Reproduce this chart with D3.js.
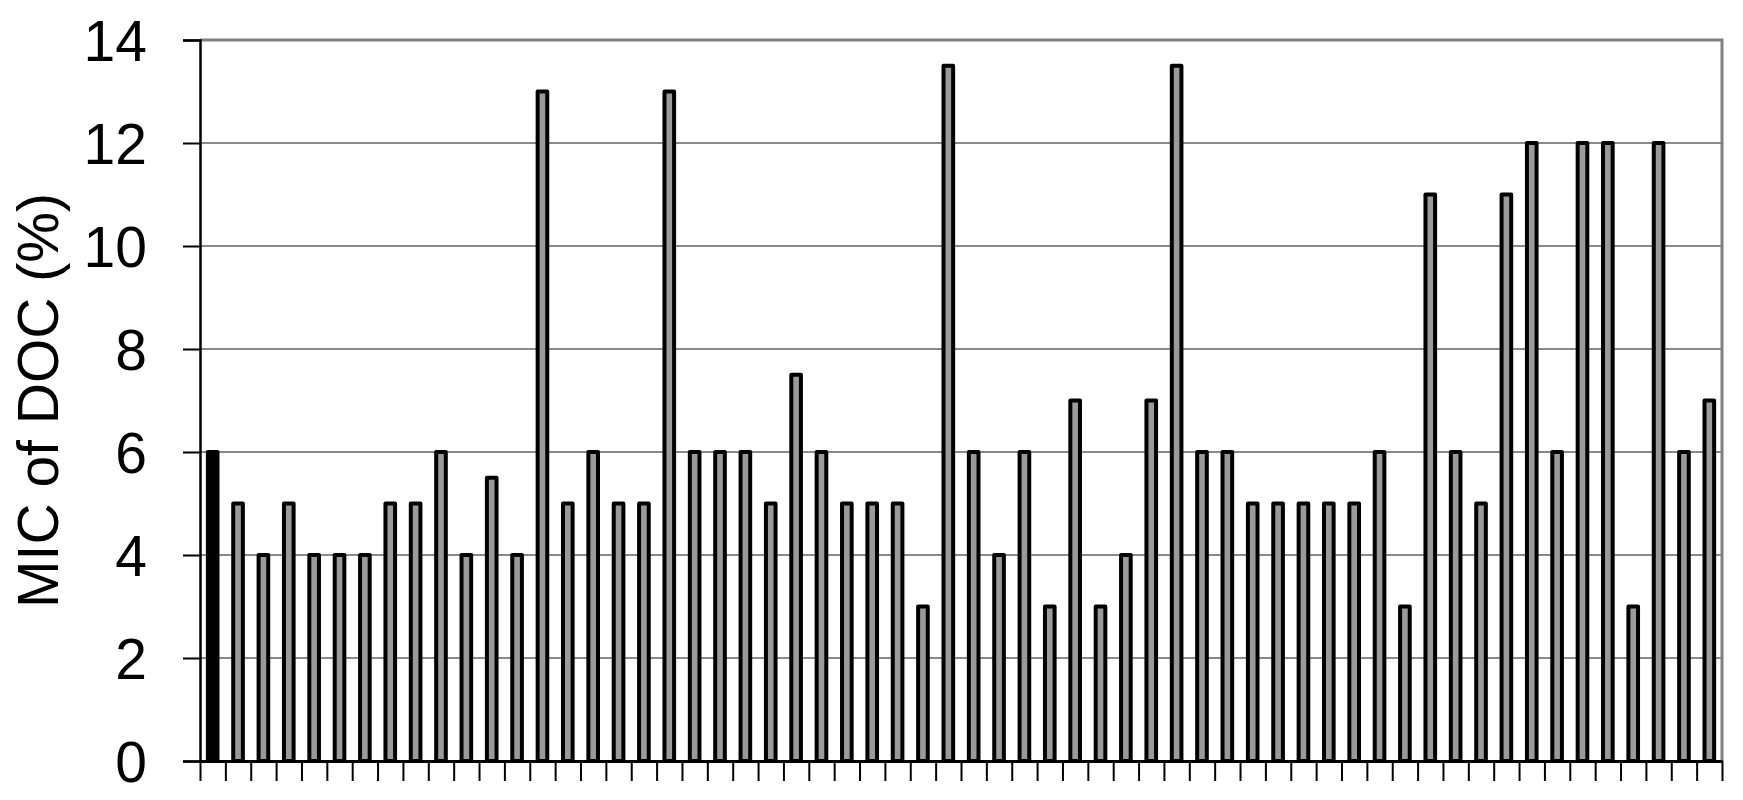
<!DOCTYPE html>
<html>
<head>
<meta charset="utf-8">
<script src="https://cdn.jsdelivr.net/npm/d3@7"></script>
<style>
  body { margin: 0; background: #fff; }
  svg { display: block; }
  .tick text { font-family: "Liberation Sans", Arial, sans-serif; }
</style>
</head>
<body>
<div id="chart"></div>
<script>
// values, one per bar (left to right)
var micValues = [6, 5, 4, 5, 4, 4, 4, 5, 5, 6,
                 4, 5.5, 4, 13, 5, 6, 5, 5, 13, 6,
                 6, 6, 5, 7.5, 6, 5, 5, 5, 3, 13.5,
                 6, 4, 6, 3, 7, 3, 4, 7, 13.5, 6,
                 6, 5, 5, 5, 5, 5, 6, 3, 11, 6,
                 5, 11, 12, 6, 12, 12, 3, 12, 6, 7];
// first bar is the reference (drawn black)
var highlighted = [0];
var yTicks = [0, 2, 4, 6, 8, 10, 12, 14];
var yLabel = 'MIC of DOC (%)';

var svgWidth = 1743;
var svgHeight = 800;
var margin = { top: 40, right: 21, bottom: 39, left: 200 };
var width = svgWidth - margin.left - margin.right;
var height = svgHeight - margin.top - margin.bottom;

var svg = d3.select('#chart').append('svg')
    .attr('width', svgWidth)
    .attr('height', svgHeight);

var g = svg.append('g')
    .attr('transform', `translate(${margin.left}, ${margin.top})`);

var idx = d3.range(micValues.length);

var xScale = d3.scaleBand()
    .domain(idx)
    .range([0, width])
    .paddingInner(0.62)
    .paddingOuter(0.31);

// edges between categories, for the little ticks under the axis
var xEdge = d3.scaleLinear()
    .domain([0, micValues.length])
    .range([0, width]);

var yScale = d3.scaleLinear()
    .domain([0, 14])
    .range([height, 0]);

// gridlines
g.append('g').selectAll('line')
    .data(yTicks.filter(d => d > 0 && d < 14))
    .enter().append('line')
    .attr('x1', 0)
    .attr('x2', width)
    .attr('y1', d => yScale(d))
    .attr('y2', d => yScale(d))
    .attr('stroke', '#8a8a8a')
    .attr('stroke-width', 2);

// top and right frame
g.append('path')
    .attr('d', `M0,${yScale(14)}H${width}V${height}`)
    .attr('fill', 'none')
    .attr('stroke', '#808080')
    .attr('stroke-width', 3);

// bars
g.append('g').selectAll('rect')
    .data(micValues)
    .enter().append('rect')
    .attr('x', (d, i) => xScale(i))
    .attr('y', d => yScale(d))
    .attr('width', xScale.bandwidth())
    .attr('height', d => height - yScale(d))
    .attr('fill', (d, i) => highlighted.includes(i) ? '#000' : '#9a9a9a')
    .attr('stroke', '#000')
    .attr('stroke-width', 4)
    .attr('stroke-linejoin', 'round');

// y axis
var yAxis = d3.axisLeft(yScale)
    .tickValues(yTicks)
    .tickSize(17)
    .tickPadding(36)
    .tickFormat(d3.format('d'));

var yAxisGroup = g.append('g').call(yAxis);
yAxisGroup.select('.domain').attr('stroke', '#000').attr('stroke-width', 2.5);
yAxisGroup.selectAll('.tick line').attr('stroke', '#000').attr('stroke-width', 2);
yAxisGroup.selectAll('.tick text')
    .style('font-size', '57px')
    .attr('fill', '#000')
    .attr('dy', '0.36em');

// x axis: ticks only, no labels
var xAxis = d3.axisBottom(xEdge)
    .tickValues(d3.range(micValues.length + 1))
    .tickSize(20)
    .tickSizeOuter(0)
    .tickFormat('');

var xAxisGroup = g.append('g')
    .attr('transform', `translate(0, ${height})`)
    .call(xAxis);
xAxisGroup.select('.domain').attr('stroke', '#000').attr('stroke-width', 3);
xAxisGroup.selectAll('.tick line').attr('stroke', '#000').attr('stroke-width', 2);

// y axis title
svg.append('text')
    .attr('transform', `translate(58, ${margin.top + height / 2}) rotate(-90)`)
    .attr('text-anchor', 'middle')
    .style('font-family', '"Liberation Sans", Arial, sans-serif')
    .style('font-size', '57px')
    .attr('fill', '#000')
    .text(yLabel);
</script>
</body>
</html>
